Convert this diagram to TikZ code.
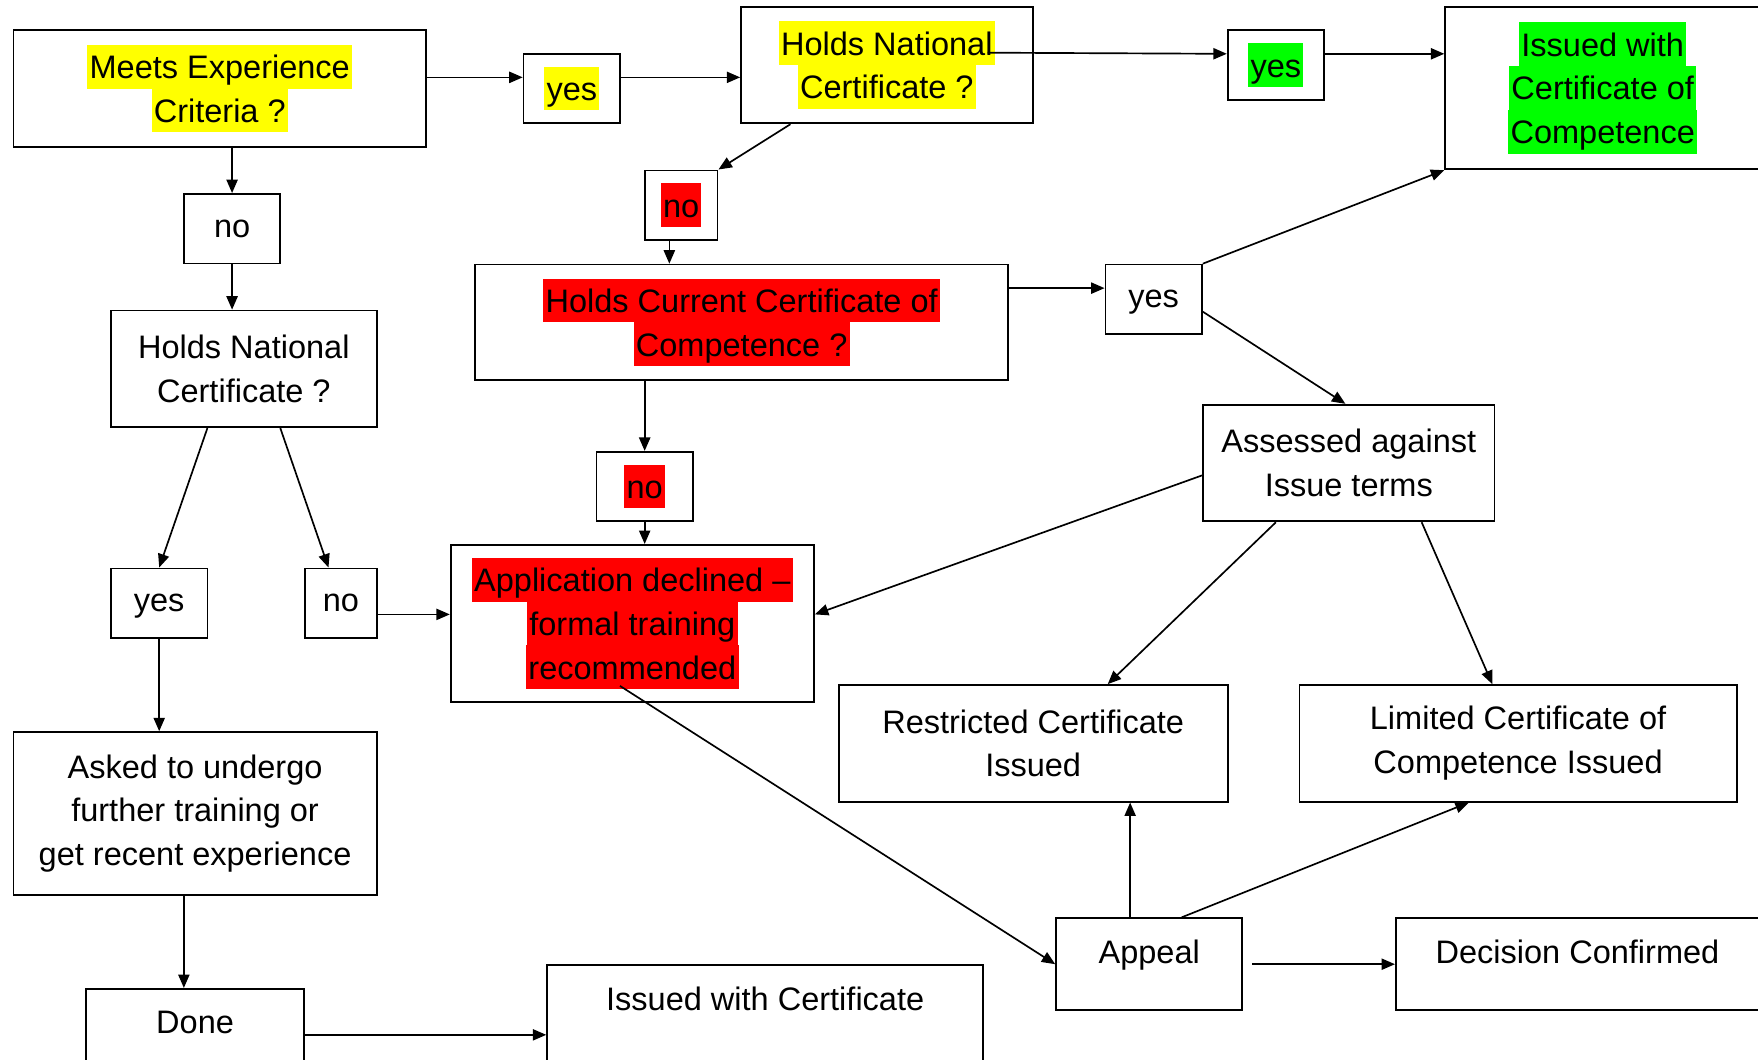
\documentclass[tikz,border=0pt]{standalone}
\usepackage{fontspec}
\setmainfont{Liberation Sans}
\usetikzlibrary{arrows.meta,calc}
\definecolor{hlyellow}{RGB}{255,255,0}
\definecolor{hlred}{RGB}{255,0,0}
\definecolor{hlgreen}{RGB}{0,255,0}
\newcommand{\hilite}[2]{{\setlength{\fboxsep}{0pt}\colorbox{#1}{\rule[-4.4pt]{0pt}{19.5pt}\hspace{1pt}#2\hspace{1pt}}}}
\tikzset{box/.style={draw, line width=0.8pt, inner sep=0pt, align=center, font=\fontsize{14.5}{19.5}\selectfont},
  tag/.style={box, minimum width=43pt, minimum height=31pt, text height=10.5pt, text depth=3pt},
  flow/.style={-{Triangle[length=6pt,width=5pt]}, line width=0.75pt}}

\begin{document}
\begin{tikzpicture}[x=0.5pt,y=-0.5pt]
\useasboundingbox (0,0) rectangle (1568,945);

% top row
\node (meets) at (196,79)   [box, minimum width=184pt, minimum height=52pt] {\hilite{hlyellow}{Meets Experience}\\\hilite{hlyellow}{Criteria ?}};
\node (yes1) at (510,79)    [box, minimum width=43pt, minimum height=31pt] {\hilite{hlyellow}{yes}};
\node (nat1) at (791,58)    [box, minimum width=130pt, minimum height=52pt] {\hilite{hlyellow}{Holds National}\\\hilite{hlyellow}{Certificate ?}};
\node (yes2) at (1138,58)   [box, minimum width=43pt, minimum height=31pt] {\hilite{hlgreen}{yes}};
\node (coc) at (1429.5,78.5) [box, minimum width=140.5pt, minimum height=72.5pt] {\hilite{hlgreen}{Issued with}\\\hilite{hlgreen}{Certificate of}\\\hilite{hlgreen}{Competence}};

% middle
\node (no1) at (207,204)    [tag] {no};
\node (nat2) at (217.5,329) [box, minimum width=118.5pt, minimum height=52pt] {Holds National\\Certificate ?};
\node (no2) at (607.5,183)  [box, minimum width=32.5pt, minimum height=31pt] {\hilite{hlred}{no}};
\node (current) at (661.5,287.5) [box, minimum width=237.5pt, minimum height=51.5pt] {\hilite{hlred}{Holds Current Certificate of}\\\hilite{hlred}{Competence ?}};
\node (yes3) at (1029,267)  [tag] {yes};
\node (assessed) at (1203,413) [box, minimum width=130pt, minimum height=52pt] {Assessed against\\Issue terms};
\node (no3) at (575,434)    [box, minimum width=43pt, minimum height=31pt] {\hilite{hlred}{no}};
\node (declined) at (564,556) [box, minimum width=162pt, minimum height=70pt] {\hilite{hlred}{Application declined --}\\\hilite{hlred}{formal training}\\\hilite{hlred}{recommended}};
\node (yes4) at (142,538)   [tag] {yes};
\node (no4) at (304,538)    [tag, minimum width=32pt] {no};

% bottom
\node (asked) at (174,725.5) [box, minimum width=162pt, minimum height=72.5pt] {Asked to undergo\\further training or\\get recent experience};
\node (restricted) at (921.5,663) [box, minimum width=173.5pt, minimum height=52pt] {Restricted Certificate\\Issued};
\node (limited) at (1354,663) [box, minimum width=195pt, minimum height=52pt] {Limited Certificate of\\Competence Issued};
\node (appeal) at (1025,860) [box, minimum width=83pt, minimum height=41pt, text height=11pt, text depth=12pt] {Appeal};
\node (decision) at (1407,860) [box, minimum width=162pt, minimum height=41pt, text height=11pt, text depth=12pt] {Decision Confirmed};
\node (done) at (174,916)   [box, minimum width=97pt, minimum height=34pt, text height=11pt, text depth=5pt] {Done};
\node (certissued) at (682.5,905.5) [box, minimum width=194.5pt, minimum height=44.5pt, text height=11pt, text depth=15.5pt] {Issued with Certificate};

% yes branch along the top
\draw[flow] ([yshift=5pt]meets.east) -- ([yshift=5pt]yes1.west);
\draw[flow] ([yshift=5pt]yes1.east) -- ([yshift=-5.5pt]nat1.west);
\draw[flow] ([xshift=-20.5pt,yshift=5.5pt]nat1.east) -- ([yshift=5pt]yes2.west);
\draw[flow] ([yshift=5pt]yes2.east) -- ([yshift=15.25pt]coc.west);

% holds current certificate
\draw[flow] ([xshift=-43pt]nat1.south) -- (no2.north east);
\draw[flow] ([xshift=-5.25pt]no2.south) -- ([xshift=-32.25pt]current.north);
\draw[flow] ([yshift=15.25pt]current.east) -- ([yshift=5pt]yes3.west);
\draw[flow] (yes3.north east) -- (coc.south west);
\draw[flow] ([yshift=-5.5pt]yes3.east) -- ([xshift=-1.5pt]assessed.north);
\draw[flow] ([xshift=-43.25pt]current.south) -- (no3.north);
\draw[flow] (no3.south) -- ([xshift=5.5pt]declined.north);

% left column
\draw[flow] ([xshift=5.5pt]meets.south) -- (no1.north);
\draw[flow] (no1.south) -- ([xshift=-5.25pt]nat2.north);
\draw[flow] ([xshift=-16.25pt]nat2.south) -- (yes4.north);
\draw[flow] ([xshift=16.25pt]nat2.south) -- ([xshift=-5.5pt]no4.north);
\draw[flow] ([yshift=-5pt]no4.east) -- ([yshift=4pt]declined.west);
\draw[flow] (yes4.south) -- ([xshift=-16pt]asked.north);
\draw[flow] ([xshift=-5pt]asked.south) -- ([xshift=-5pt]done.north);
\draw[flow] ([yshift=-3.5pt]done.east) -- ([yshift=-8.75pt]certissued.west);

% assessment and appeal
\draw[flow] ([yshift=-5.5pt]assessed.west) -- ([yshift=4pt]declined.east);
\draw[flow] ([xshift=-32.5pt]assessed.south) -- ([xshift=33.25pt]restricted.north);
\draw[flow] ([xshift=32.5pt]assessed.south) -- ([xshift=-11.5pt]limited.north);
\draw[flow] ([xshift=-5.5pt,yshift=7.5pt]declined.south) -- (appeal.west);
\draw[flow] ([xshift=-8.5pt]appeal.north) -- ([xshift=43.25pt]restricted.south);
\draw[flow] ([xshift=14.5pt]appeal.north) -- ([xshift=-22pt]limited.south);
\draw[flow] ([xshift=4pt]appeal.east) -- (decision.west);
\end{tikzpicture}
\end{document}
